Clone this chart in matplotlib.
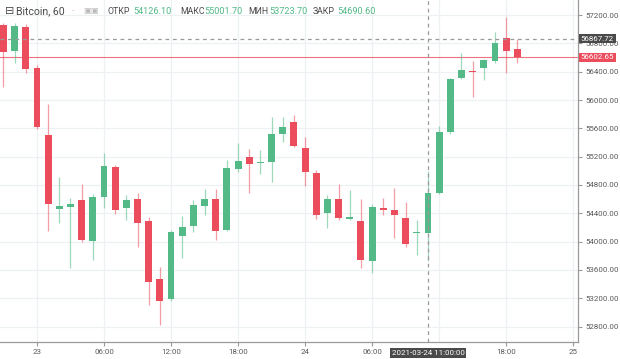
import matplotlib.pyplot as plt
import numpy as np

# === DATOS (velas horarias, h = horas desde 2021-03-23 00:00) ===
horas = list(range(-3, 44))
aperturas = [57060, 56690, 57035, 56450, 55505, 54460, 54495, 54590, 54010, 54625,
             55060, 54480, 54600, 54295, 53470, 53185, 54080, 54220, 54505, 54605,
             54170, 55025, 55190, 55105, 55120, 55520, 55695, 55320, 54975, 54400,
             54600, 54320, 54290, 53725, 54470, 54450, 54340, 54120, 54126.1, 54690,
             55555, 56305, 56415, 56450, 56555, 56870, 56715]
maximos = [57090, 57090, 57080, 56490, 55940, 54915, 54610, 54815, 54670, 55250,
           55085, 54660, 54680, 54350, 53645, 54160, 54360, 54590, 54740, 54740,
           55155, 55390, 55305, 55295, 55765, 55755, 55790, 55475, 55010, 54660,
           54810, 54730, 54600, 54530, 54610, 54755, 54565, 54305, 55001.7, 55635,
           56310, 56660, 56555, 56580, 56965, 57175, 56860]
minimos = [56185, 56520, 56375, 55590, 54155, 54260, 53625, 54000, 53740, 54470,
           54390, 54305, 53930, 53105, 52825, 53165, 53765, 54140, 54375, 54025,
           54150, 54985, 54680, 54955, 54845, 55410, 55330, 54785, 54315, 54190,
           54305, 54300, 53625, 53555, 54375, 54045, 53930, 53810, 53723.7, 54670,
           55520, 56295, 56045, 56280, 56520, 56375, 56525]
cierres = [56680, 57050, 56440, 55615, 54530, 54500, 54530, 54025, 54625, 55070,
           54440, 54590, 54265, 53435, 53165, 54135, 54210, 54515, 54600, 54155,
           55035, 55145, 55095, 55125, 55515, 55615, 55350, 54985, 54375, 54600,
           54335, 54345, 53740, 54485, 54450, 54375, 53965, 54140, 54690.6, 55555,
           56290, 56425, 56395, 56565, 56800, 56685, 56602.65]

ticks_x = [0, 6, 12, 18, 24, 30, 42, 48]
etiquetas_x = ['23', '06:00', '12:00', '18:00', '24', '06:00', '18:00', '25']
grid_x = [0, 6, 12, 18, 24, 30, 36, 42, 48]
ticks_y = [52800, 53200, 53600, 54000, 54400, 54800, 55200, 55600, 56000, 56400, 56800, 57200]

precio_cursor = 56867.72
precio_actual = 56602.65
hora_cursor = 35

verde = '#53b987'
rojo = '#eb4d5c'
gris_txt = '#4a4a4a'

plt.rcParams['font.family'] = ['Roboto', 'DejaVu Sans']

fig = plt.figure(figsize=(6.2, 3.59), dpi=100)
ax = fig.add_axes([0, 17 / 359, 578 / 620, 342 / 359])

# Rejilla
for gx in grid_x:
    ax.axvline(gx, color='#eef1f4', lw=0.9, zorder=0)
for gy in ticks_y:
    ax.axhline(gy, color='#eef1f4', lw=0.9, zorder=0)

# Velas
for h, o, hi, lo, c in zip(horas, aperturas, maximos, minimos, cierres):
    col = verde if c >= o else rojo
    ax.vlines(h, lo, hi, color=col, lw=0.9, alpha=0.55, zorder=2)
    alto = max(abs(c - o), 22)
    base = min(o, c) if abs(c - o) >= 22 else (o + c) / 2 - 11
    ax.bar(h, alto, bottom=base, width=0.62, color=col, lw=0, zorder=3)

# Líneas de precio y cursor
ax.axhline(precio_actual, color=rojo, lw=0.8, alpha=0.8, zorder=1)
ax.axhline(precio_cursor, color='#9a9a9a', lw=0.9, ls=(0, (3, 3)), zorder=4)
ax.axvline(hora_cursor, color='#9a9a9a', lw=0.9, ls=(0, (3, 3)), zorder=4)

ax.set_xlim(-3.31, 48.43)
ax.set_ylim(52583, 57412)

# Ejes
for lado in ['top', 'left']:
    ax.spines[lado].set_visible(False)
for lado in ['right', 'bottom']:
    ax.spines[lado].set_color('#9a9a9a')
    ax.spines[lado].set_linewidth(0.9)

ax.yaxis.tick_right()
ax.set_yticks(ticks_y)
ax.set_yticklabels([f'{v:.2f}' for v in ticks_y])
ax.set_xticks(ticks_x)
ax.set_xticklabels(etiquetas_x)
ax.tick_params(axis='both', colors='#9a9a9a', labelcolor='#5a5a5a', labelsize=5.7,
               length=3, width=0.8, pad=2)

# Etiquetas resaltadas en el eje de precios
ax.text(1.005, precio_cursor, f'{precio_cursor:.2f}', transform=ax.get_yaxis_transform(),
        fontsize=5.7, color='white', va='center', ha='left', zorder=6, clip_on=False,
        bbox=dict(boxstyle='square,pad=0.2', fc='#4a4a4a', ec='none'))
ax.text(1.005, precio_actual, f'{precio_actual:.2f}', transform=ax.get_yaxis_transform(),
        fontsize=5.7, color='white', va='center', ha='left', zorder=6, clip_on=False,
        bbox=dict(boxstyle='square,pad=0.2', fc=rojo, ec='none'))
ax.text(hora_cursor, -0.022, '2021-03-24 11:00:00', transform=ax.get_xaxis_transform(),
        fontsize=5.7, color='white', va='top', ha='center', zorder=6, clip_on=False,
        bbox=dict(boxstyle='square,pad=0.25', fc='#4a4a4a', ec='none'))

# Cabecera
fy = 1 - 11 / 359
fig.text(5 / 620, fy, '⊟', fontsize=8, color=gris_txt, va='center', family=['DejaVu Sans'])
fig.text(16 / 620, fy, 'Bitcoin, 60', fontsize=7.6, color=gris_txt, va='center')
fig.text(72 / 620, fy, '-', fontsize=6, color='#bbbbbb', va='center')
fig.text(83 / 620, fy, '▣▣', fontsize=6, color='#bbbbbb', va='center', family=['DejaVu Sans'])
cabecera = [(108, 'ОТКР', 133, '54126.10'), (180, 'МАКС', 204, '55001.70'),
            (248, 'МИН', 269, '53723.70'), (313, 'ЗАКР', 337, '54690.60')]
for x1, t1, x2, t2 in cabecera:
    fig.text(x1 / 620, fy, t1, fontsize=6.3, color=gris_txt, va='center')
    fig.text(x2 / 620, fy, t2, fontsize=6.6, color=verde, va='center')

fig.savefig('out.png', dpi=100)
